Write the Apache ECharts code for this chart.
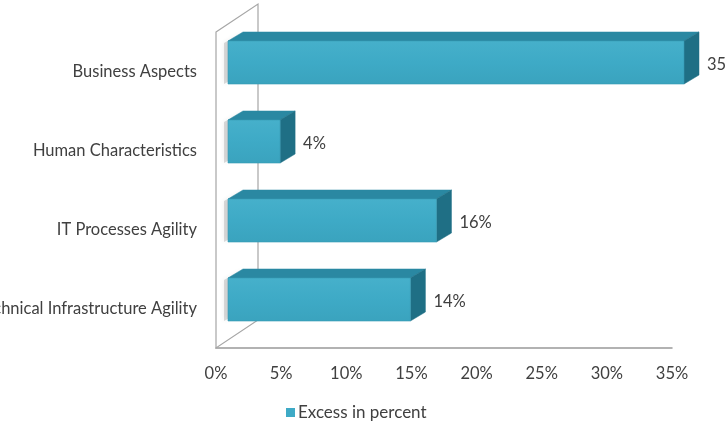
<!DOCTYPE html>
<html>
<head>
<meta charset="utf-8">
<script src="https://cdn.jsdelivr.net/npm/echarts@6/dist/echarts.min.js"></script>
<style>
    html, body { margin: 0; padding: 0; background: #fff; }
    #chart { width: 727px; height: 424px; }
</style>
</head>
<body>
<div id="chart"></div>
<script>
    // categories from bottom to top
    const categories = ['Technical Infrastructure Agility', 'IT Processes Agility', 'Human Characteristics', 'Business Aspects'];
    const excess = [14, 16, 4, 35];
    const xMin = 0;
    const xMax = 35;
    const xStep = 5;

    const FONT = 'Lato, "Open Sans", sans-serif';
    const TEXT = '#404040';

    // 3d-ish bar, drawn through the axis scales
    function renderBar(params, api) {
        const v = api.value(0);
        const c = api.value(1);
        const p0 = api.coord([0, c]);
        const p1 = api.coord([v, c]);
        const band = api.size([0, 1])[1];
        const h = band * 0.545;
        const x = p0[0] + 12;
        const w = p1[0] - p0[0];
        const y = p0[1] - 9 - h / 2;
        const dx = 15, dy = 9;
        const children = [];

        if (params.dataIndex === 0) {
            // left wall
            const cs = params.coordSys;
            children.push({
                type: 'polygon',
                shape: {
                    points: [
                        [cs.x, cs.y], [cs.x + 42, cs.y - 28],
                        [cs.x + 42, cs.y + cs.height - 28], [cs.x, cs.y + cs.height]
                    ]
                },
                style: { fill: 'none', stroke: '#a6a6a6', lineWidth: 1.2 },
                z2: 0
            });
        }
        // shadow on the wall
        children.push({
            type: 'polygon',
            shape: { points: [[x - 4, y + 2], [x + dx - 2, y - dy + 2], [x + dx - 2, y + h - dy], [x - 4, y + h]] },
            style: { fill: 'rgba(140,140,140,0.3)', shadowBlur: 5, shadowColor: 'rgba(0,0,0,0.25)' },
            z2: 1
        });
        // top face
        children.push({
            type: 'polygon',
            shape: { points: [[x, y], [x + dx, y - dy], [x + w + dx, y - dy], [x + w, y]] },
            style: { fill: '#2a88a2', stroke: '#2a88a2', lineWidth: 0.5 },
            z2: 2
        });
        // right face
        children.push({
            type: 'polygon',
            shape: { points: [[x + w, y], [x + w + dx, y - dy], [x + w + dx, y + h - dy], [x + w, y + h]] },
            style: { fill: '#1f6f85', stroke: '#1f6f85', lineWidth: 0.5 },
            z2: 2
        });
        // front face
        children.push({
            type: 'rect',
            shape: { x: x, y: y, width: w, height: h },
            style: {
                fill: new echarts.graphic.LinearGradient(0, 0, 0, 1, [
                    { offset: 0, color: '#46b0cb' },
                    { offset: 0.5, color: '#3eaac6' },
                    { offset: 1, color: '#3aa3be' }
                ]),
                stroke: '#3598b2',
                lineWidth: 0.6
            },
            z2: 3
        });
        // value label
        children.push({
            type: 'text',
            style: {
                x: x + w + dx + 8,
                y: y + h / 2 + 2,
                text: v + '%',
                fill: TEXT,
                font: '16.5px ' + FONT,
                align: 'left',
                verticalAlign: 'middle'
            },
            z2: 4
        });
        return { type: 'group', children: children };
    }

    const chart = echarts.init(document.getElementById('chart'), null, { renderer: 'canvas' });
    chart.setOption({
        animation: false,
        grid: { left: 216, right: 55, top: 32, bottom: 76, containLabel: false, outerBoundsMode: 'none' },
        legend: {
            left: 281,
            top: 399,
            itemWidth: 9,
            itemHeight: 9,
            itemGap: 4,
            icon: 'rect',
            textStyle: { color: TEXT, fontFamily: FONT, fontSize: 17, padding: [0, 0, 0, -2] },
            data: ['Excess in percent']
        },
        xAxis: {
            type: 'value',
            min: xMin,
            max: xMax,
            interval: xStep,
            axisLine: { show: true, lineStyle: { color: '#999', width: 1.5 } },
            axisTick: { show: false },
            splitLine: { show: false },
            axisLabel: {
                color: TEXT, fontFamily: FONT, fontSize: 16.5, margin: 17,
                formatter: val => val + '%'
            }
        },
        yAxis: {
            type: 'category',
            data: categories,
            axisLine: { show: false },
            axisTick: { show: false },
            axisLabel: { color: TEXT, fontFamily: FONT, fontSize: 16.5, margin: 19, padding: [5, 0, 0, 0] }
        },
        series: [{
            name: 'Excess in percent',
            type: 'custom',
            renderItem: renderBar,
            itemStyle: { color: '#3eaac6' },
            encode: { x: 0, y: 1 },
            clip: false,
            data: excess.map((v, i) => [v, i])
        }]
    });
</script>
</body>
</html>
